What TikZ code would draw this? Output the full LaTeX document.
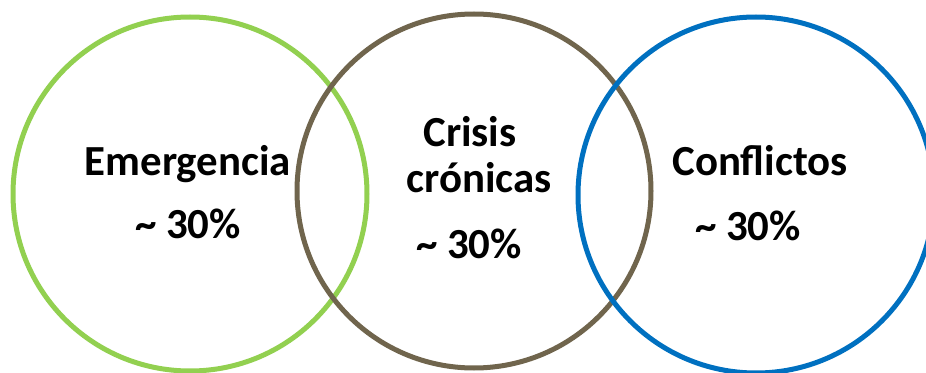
\documentclass[tikz,border=0pt]{standalone}
\usepackage{fontspec}
\setmainfont{Carlito}
\definecolor{ringgreen}{RGB}{146,208,80}
\definecolor{ringbrown}{RGB}{112,101,77}
\definecolor{ringblue}{RGB}{0,112,192}
\begin{document}
\begin{tikzpicture}[ring/.style={line width=0.1cm},
    lbl/.style={anchor=base,font=\fontsize{24.4}{29}\selectfont\bfseries}]
  \useasboundingbox (0,0) rectangle (18.52,7.44);
  \clip (0,0) rectangle (18.52,7.44);
  \draw[ring,ringgreen] (3.80,3.56) circle (3.54cm);
  \draw[ring,ringbrown] (9.48,3.62) circle (3.54cm);
  \draw[ring,ringblue] (15.12,3.54) circle (3.56cm);
  \node[lbl] (emerg) at (3.76,3.94) {Emergencia};
  \node[lbl] (emergpct) at (3.76,2.68) {\textasciitilde{} 30\%};
  \node[lbl] (crisis) at (9.40,4.50) {Crisis};
  \node[lbl] (cronic) at (9.58,3.58) {crónicas};
  \node[lbl] (crisispct) at (9.38,2.28) {\textasciitilde{} 30\%};
  \node[lbl] (confl) at (15.20,3.94) {Conflictos};
  \node[lbl] (conflpct) at (14.96,2.64) {\textasciitilde{} 30\%};
\end{tikzpicture}
\end{document}
